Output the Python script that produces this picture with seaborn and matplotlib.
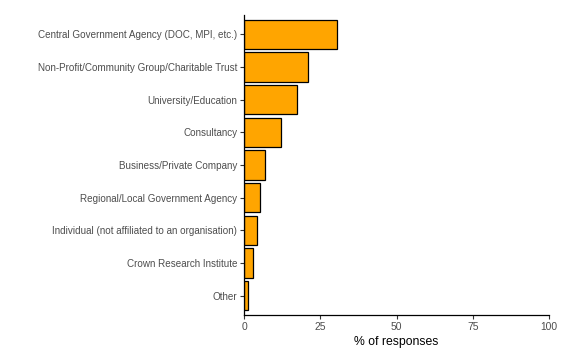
import pandas as pd
import matplotlib
matplotlib.use("Agg")
import matplotlib.pyplot as plt
import seaborn as sns

categories = [
    "Central Government Agency (DOC, MPI, etc.)",
    "Non-Profit/Community Group/Charitable Trust",
    "University/Education",
    "Consultancy",
    "Business/Private Company",
    "Regional/Local Government Agency",
    "Individual (not affiliated to an organisation)",
    "Crown Research Institute",
    "Other",
]
percent = [30.4, 21.1, 17.4, 12.1, 6.7, 5.3, 4.2, 2.8, 1.4]

df = pd.DataFrame({"org": categories, "pct": percent})

sns.set_theme(style="white")
plt.rcParams["font.family"] = ["Liberation Sans", "DejaVu Sans"]

fig = plt.figure(figsize=(5.65, 3.63), dpi=100)
ax = fig.add_axes([0.432, 0.132, 0.540, 0.827])

sns.barplot(data=df, x="pct", y="org", color="#FFA500", edgecolor="black",
            linewidth=0.9, width=0.9, saturation=1, ax=ax)

ax.set_xlim(0, 100)
ax.set_ylim(8.6, -0.6)
ax.set_xticks([0, 25, 50, 75, 100])
ax.set_xlabel("% of responses", fontsize=8.8, color="black", labelpad=3)
ax.set_ylabel("")
ax.tick_params(axis="both", labelsize=7.1, labelcolor="#4D4D4D", color="#333333",
               length=3, width=0.8, pad=2, left=True, bottom=True)
ax.tick_params(axis="x", labelsize=7.4)
for side in ["top", "right"]:
    ax.spines[side].set_visible(False)
for side in ["left", "bottom"]:
    ax.spines[side].set_color("black")
    ax.spines[side].set_linewidth(0.9)

fig.savefig("out.png", dpi=100)
